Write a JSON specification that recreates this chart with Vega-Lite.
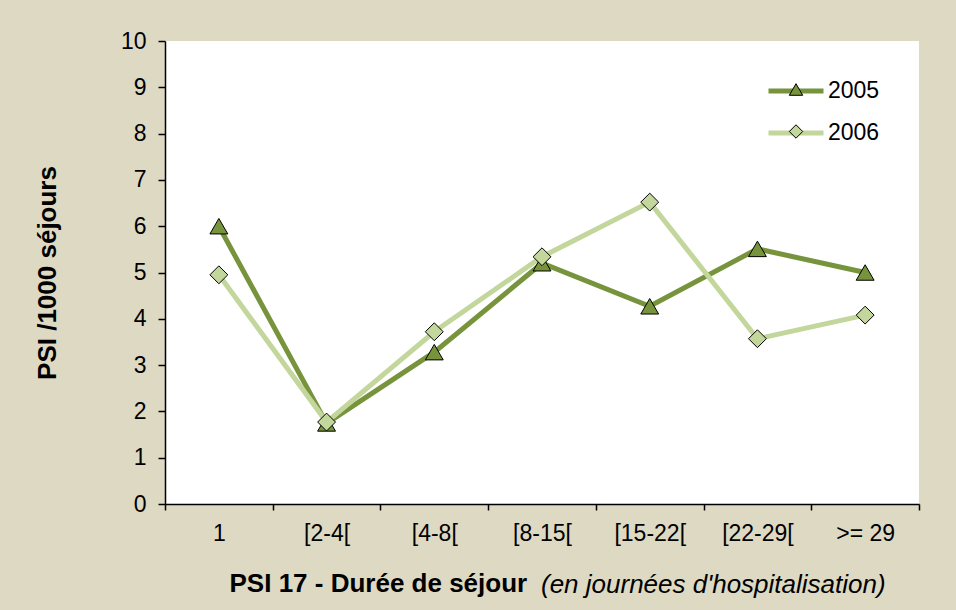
{
  "$schema": "https://vega.github.io/schema/vega-lite/v6.json",
  "autosize": "none",
  "width": 754,
  "height": 463,
  "padding": {"left": 165, "top": 41, "right": 37, "bottom": 106},
  "background": "#ddd9c3",
  "config": {
    "font": "Liberation Sans",
    "view": {"fill": "white", "stroke": null},
    "axis": {"domainColor": "black", "domainWidth": 1.5, "tickColor": "black", "tickWidth": 1.5, "labelColor": "black", "titleColor": "black", "grid": false, "labelFont": "Liberation Sans", "titleFont": "Liberation Sans"},
    "legend": {"labelFont": "Liberation Sans", "labelColor": "black"}
  },
  "title": {
    "text": "(en journées d'hospitalisation)",
    "orient": "bottom",
    "anchor": "start",
    "frame": "group",
    "fontSize": 26,
    "fontStyle": "italic",
    "fontWeight": "normal",
    "color": "black",
    "dx": 376,
    "dy": -24,
    "offset": 0
  },
  "data": {
    "values": [
      {"cat": "1", "year": "2005", "yr": "2005", "value": 6.0},
      {"cat": "[2-4[", "year": "2005", "yr": "2005", "value": 1.74},
      {"cat": "[4-8[", "year": "2005", "yr": "2005", "value": 3.28},
      {"cat": "[8-15[", "year": "2005", "yr": "2005", "value": 5.2},
      {"cat": "[15-22[", "year": "2005", "yr": "2005", "value": 4.27},
      {"cat": "[22-29[", "year": "2005", "yr": "2005", "value": 5.51},
      {"cat": ">= 29", "year": "2005", "yr": "2005", "value": 5.0},
      {"cat": "1", "year": "2006", "yr": "2006", "value": 4.95},
      {"cat": "[2-4[", "year": "2006", "yr": "2006", "value": 1.77},
      {"cat": "[4-8[", "year": "2006", "yr": "2006", "value": 3.72},
      {"cat": "[8-15[", "year": "2006", "yr": "2006", "value": 5.34},
      {"cat": "[15-22[", "year": "2006", "yr": "2006", "value": 6.52},
      {"cat": "[22-29[", "year": "2006", "yr": "2006", "value": 3.57},
      {"cat": ">= 29", "year": "2006", "yr": "2006", "value": 4.08}
    ]
  },
  "encoding": {
    "x": {
      "field": "cat",
      "type": "nominal",
      "sort": ["1", "[2-4[", "[4-8[", "[8-15[", "[15-22[", "[22-29[", ">= 29"],
      "scale": {"type": "band", "paddingInner": 0, "paddingOuter": 0},
      "axis": {
        "labelAngle": 0,
        "labelFontSize": 23,
        "tickBand": "extent",
        "tickSize": 6,
        "labelPadding": 12,
        "title": "PSI 17 - Durée de séjour",
        "titleFontSize": 26,
        "titleFontWeight": "bold",
        "titleAlign": "left",
        "titleAnchor": null,
        "titleX": 64,
        "titleY": 87,
        "titleBaseline": "alphabetic"
      }
    },
    "y": {
      "field": "value",
      "type": "quantitative",
      "scale": {"domain": [0, 10], "nice": false},
      "axis": {
        "values": [0, 1, 2, 3, 4, 5, 6, 7, 8, 9, 10],
        "labelFontSize": 23,
        "tickSize": 7,
        "labelPadding": 12,
        "title": "PSI /1000 séjours",
        "titleFontSize": 26,
        "titleFontWeight": "bold",
        "titleX": -118,
        "titleBaseline": "middle"
      }
    }
  },
  "layer": [
    {
      "mark": {"type": "line", "strokeWidth": 5},
      "encoding": {
        "stroke": {
          "field": "year",
          "type": "nominal",
          "scale": {"range": ["#77933c", "#c3d69b"]},
          "legend": {
            "orient": "none",
            "legendX": 601,
            "legendY": 20,
            "title": null,
            "padding": 0,
            "symbolType": "stroke",
            "symbolSize": 3025,
            "symbolStrokeWidth": 5,
            "labelFontSize": 23,
            "labelOffset": 2,
            "rowPadding": 0
          }
        }
      }
    },
    {
      "mark": {"type": "point", "filled": true, "size": 320, "stroke": "black", "strokeWidth": 1, "opacity": 1},
      "encoding": {
        "fill": {
          "field": "yr",
          "type": "nominal",
          "scale": {"range": ["#77933c", "#c3d69b"]},
          "legend": {
            "orient": "none",
            "legendX": 619.5,
            "legendY": 37,
            "title": null,
            "padding": 0,
            "symbolSize": 180,
            "symbolStrokeColor": "black",
            "symbolStrokeWidth": 1,
            "labelFontSize": 23,
            "labelExpr": "''",
            "rowPadding": 18
          }
        },
        "shape": {
          "field": "yr",
          "type": "nominal",
          "scale": {"range": ["triangle-up", "diamond"]}
        }
      }
    }
  ]
}
